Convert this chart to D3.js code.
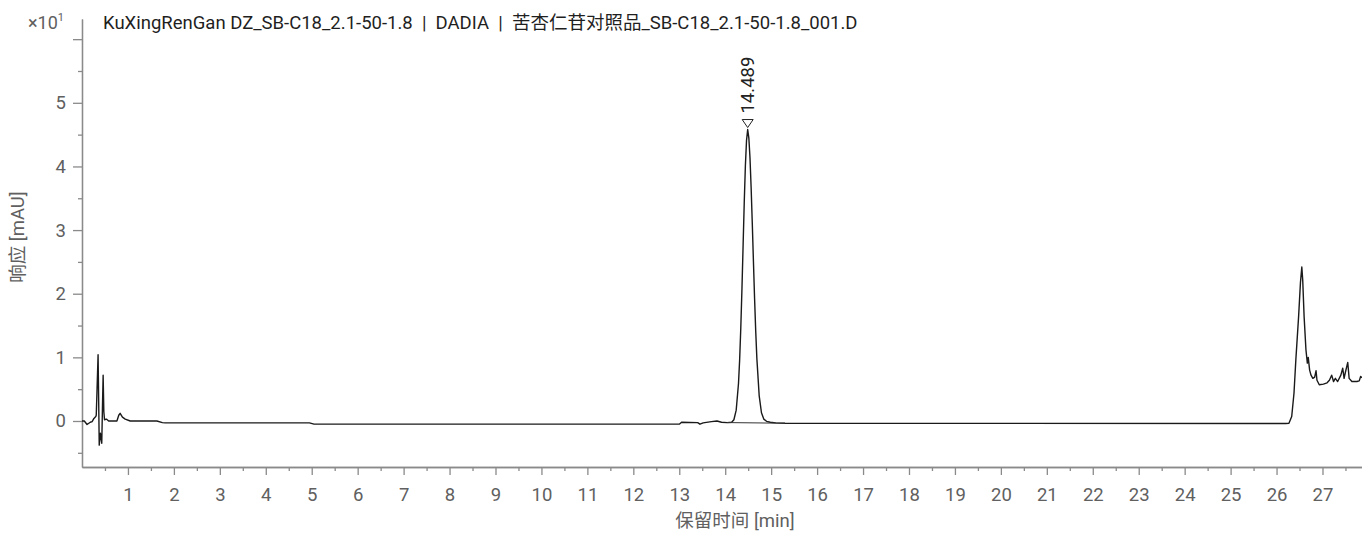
<!DOCTYPE html>
<html>
<head>
<meta charset="utf-8">
<script src="https://cdn.jsdelivr.net/npm/d3@7"></script>
<style>
  html, body { margin: 0; padding: 0; background: #fff; }
  svg { display: block; font-family: Roboto, "Noto Sans CJK SC", sans-serif; }
</style>
</head>
<body>
<svg id="chart" width="1362" height="533"></svg>
<script>
// Chromatogram trace: [retention time (min), response (mAU)]
const traceTime = [
  0.00, 0.05, 0.11, 0.18, 0.22, 0.26, 0.30, 0.31, 0.326, 0.35, 0.365, 0.375, 0.40, 0.43, 0.445, 0.46, 0.475, 0.49, 0.53, 0.58,
  0.76, 0.80, 0.83, 0.88, 0.94, 1.05, 1.63, 1.75, 1.81, 4.95, 5.05,
  13.00, 13.05, 13.40, 13.45, 13.52, 13.70, 13.82, 13.92, 14.04,
  14.14, 14.189, 14.239, 14.289, 14.314, 14.339, 14.364, 14.389, 14.414, 14.439, 14.464, 14.489,
  14.514, 14.539, 14.564, 14.589, 14.614, 14.639, 14.664, 14.689, 14.739, 14.789, 14.839, 14.90, 14.98, 15.10, 15.30,
  26.20, 26.27, 26.33, 26.38, 26.42, 26.48, 26.52, 26.55, 26.57, 26.60, 26.64, 26.67, 26.69, 26.72, 26.75, 26.79, 26.83,
  26.86, 26.88, 26.93, 27.02, 27.10, 27.15, 27.20, 27.24, 27.28, 27.33, 27.40, 27.44, 27.47, 27.50, 27.55, 27.58, 27.64,
  27.75, 27.80, 27.83, 27.86
];
const traceResponse = [
  0.0, 0.0, -0.55, -0.2, -0.1, 0.4, 0.7, 0.9, 4.6, 10.4, 2.0, -3.8, -1.9, -3.5, 2.0, 7.2, 1.5, 0.2, 0.3, 0.0,
  0.0, 0.9, 1.2, 0.6, 0.3, 0.0, 0.0, -0.25, -0.3, -0.3, -0.5,
  -0.5, -0.2, -0.25, -0.5, -0.3, -0.1, 0.0, -0.2, -0.25,
  -0.2, 0.2, 1.7, 5.9, 9.6, 14.6, 20.7, 27.5, 34.3, 40.1, 44.1, 45.8,
  44.5, 41.4, 36.7, 31.1, 25.1, 19.3, 14.1, 9.8, 4.0, 1.3, 0.3, -0.05, -0.2, -0.3, -0.35,
  -0.4, -0.35, 0.7, 4.4, 9.6, 16.4, 21.7, 24.2, 22.1, 16.4, 11.2, 9.1, 10.0, 8.0, 7.2, 6.7, 6.9,
  7.9, 6.4, 5.7, 5.8, 6.0, 6.4, 7.2, 6.2, 6.7, 6.2, 7.2, 8.3, 6.7, 7.7, 9.2, 6.7, 6.2,
  6.2, 6.3, 7.0, 6.8
];

// Integration baseline under the main peak
const baselineTime = [14.04, 15.30];
const baselineResponse = [-0.25, -0.35];

// Labelled peak
const peakTime = [14.489];
const peakResponse = [45.8];
const peakLabel = ["14.489"];

// Axis ticks
const xMajorTicks = d3.range(1, 28);          // 1 … 27 min
const xMinorTicks = d3.range(0.5, 28, 1);     // half-minute marks
const yMajorTicks = [0, 10, 20, 30, 40, 50, 60];
const yMajorLabels = ["0", "1", "2", "3", "4", "5", ""];
const yMinorTicks = [-5, 5, 15, 25, 35, 45, 55];

const title = "KuXingRenGan DZ_SB-C18_2.1-50-1.8 \u00a0|\u00a0 DADIA \u00a0|\u00a0 苦杏仁苷对照品_SB-C18_2.1-50-1.8_001.D";
const xTitle = "保留时间 [min]";
const yTitle = "响应 [mAU]";

const svg = d3.select("#chart");
const W = 1362;
const plotLeft = 82, plotBottom = 467, plotTop = 19;
const fontSize = 18.5;

const x = d3.scaleLinear().domain([0, 27.86]).range([plotLeft, W]);
const y = d3.scaleLinear().domain([-7.23, 63.17]).range([plotBottom, plotTop]);

const axisColor = "#8a8a8a";
const labelColor = "#606060";

// X axis: minor then major ticks
const gxMinor = svg.append("g").attr("transform", `translate(0,${plotBottom})`)
  .call(d3.axisBottom(x).tickValues(xMinorTicks).tickSize(4).tickSizeOuter(0).tickFormat(""));
const gx = svg.append("g").attr("transform", `translate(0,${plotBottom})`)
  .call(d3.axisBottom(x).tickValues(xMajorTicks).tickSize(8).tickSizeOuter(0).tickPadding(13).tickFormat(d3.format("d")));

// Y axis
const gyMinor = svg.append("g").attr("transform", `translate(${plotLeft},0)`)
  .call(d3.axisLeft(y).tickValues(yMinorTicks).tickSize(4).tickSizeOuter(0).tickFormat(""));
const gy = svg.append("g").attr("transform", `translate(${plotLeft},0)`)
  .call(d3.axisLeft(y).tickValues(yMajorTicks).tickSize(9).tickSizeOuter(0).tickPadding(7)
    .tickFormat((d, i) => yMajorLabels[i]));

[gxMinor, gx, gyMinor, gy].forEach(g => {
  g.selectAll("path.domain").attr("stroke", axisColor).attr("stroke-width", 1.3);
  g.selectAll(".tick line").attr("stroke", axisColor).attr("stroke-width", 1.3);
  g.selectAll(".tick text").attr("fill", labelColor).attr("font-size", fontSize)
    .attr("font-family", "Roboto, sans-serif");
});

// Trace
const traceData = traceTime.map((t, i) => [t, traceResponse[i]]);
const line = d3.line().x(d => x(d[0])).y(d => y(d[1]));
svg.append("path")
  .datum(traceData)
  .attr("d", line)
  .attr("fill", "none")
  .attr("stroke", "#1a1a1a")
  .attr("stroke-width", 1.4)
  .attr("stroke-linejoin", "round");

// Integration baseline
svg.append("path")
  .datum(baselineTime.map((t, i) => [t, baselineResponse[i]]))
  .attr("d", line)
  .attr("fill", "none")
  .attr("stroke", "#333")
  .attr("stroke-width", 1);

// Peak marker and retention-time label
peakTime.forEach((t, i) => {
  const px = x(t), py = y(peakResponse[i]);
  const tipY = py - 2, h = 8, w = 11;
  svg.append("path")
    .attr("d", `M${px},${tipY} L${px - w / 2},${tipY - h} L${px + w / 2},${tipY - h} Z`)
    .attr("fill", "#fff")
    .attr("stroke", "#222")
    .attr("stroke-width", 1);
  svg.append("text")
    .attr("transform", `translate(${px + 6.5},${tipY - h - 6}) rotate(-90)`)
    .attr("font-size", fontSize)
    .attr("fill", "#222")
    .text(peakLabel[i]);
});

// Title
svg.append("text")
  .attr("x", 103).attr("y", 29)
  .attr("font-size", fontSize)
  .attr("fill", "#1f1f1f")
  .text(title);

// Axis multiplier
const mult = svg.append("text").attr("x", 28).attr("y", 29).attr("font-size", 18).attr("fill", labelColor);
mult.append("tspan").text("×10");
mult.append("tspan").attr("dy", -8).attr("font-size", 11).text("1");

// Axis titles
svg.append("text")
  .attr("x", 735).attr("y", 527)
  .attr("text-anchor", "middle")
  .attr("font-size", fontSize)
  .attr("fill", labelColor)
  .text(xTitle);

svg.append("text")
  .attr("transform", "translate(24,237) rotate(-90)")
  .attr("text-anchor", "middle")
  .attr("font-size", fontSize)
  .attr("fill", labelColor)
  .text(yTitle);
</script>
</body>
</html>
